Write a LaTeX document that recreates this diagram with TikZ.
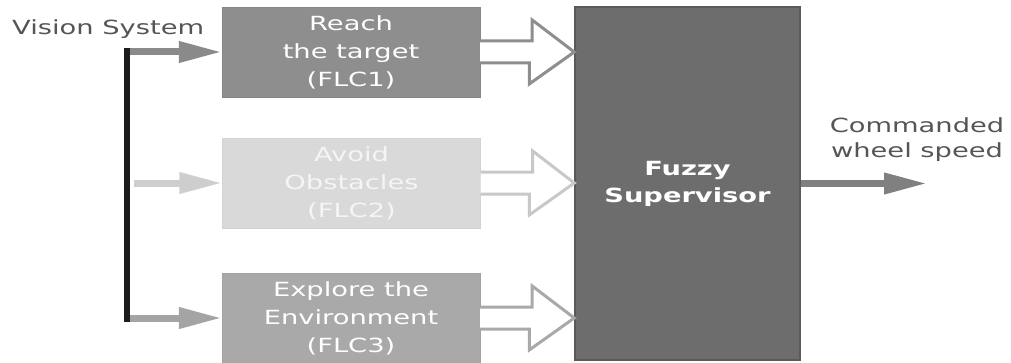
\documentclass[tikz,border=0pt]{standalone}
\usepackage{fontspec}
\newfontfamily\lab[FakeStretch=1.4]{DejaVu Sans}
\usetikzlibrary{arrows.meta}
\definecolor{boxA}{HTML}{8E8E8E}
\definecolor{boxB}{HTML}{D9D9D9}
\definecolor{boxC}{HTML}{A9A9A9}
\definecolor{supfill}{HTML}{6D6D6D}
\definecolor{supedge}{HTML}{5A5A5A}
\definecolor{labgray}{HTML}{555555}
\definecolor{busblack}{HTML}{1C1C1C}
\begin{document}
\begin{tikzpicture}[x=1pt,y=1pt,
  fcbox/.style={minimum width=258pt, minimum height=90pt, inner sep=0pt, align=center,
    font=\lab\fontsize{19.5}{28}\selectfont},
  solidarrow/.style={line width=7pt, -{Triangle[length=43pt,width=20pt]}},
  hollow/.style={line width=3pt, fill=white, line join=miter},
  labtext/.style={inner sep=0pt, align=center, text=labgray, font=\lab\fontsize{19.5}{25}\selectfont}
]
\useasboundingbox (0,0) rectangle (1011,362);
% boxes
\node[fcbox, fill=boxA, draw=boxA!95!black, text=white] (b1) at (351,310) {Reach\\the target\\(FLC1)};
\node[fcbox, fill=boxB, draw=boxB!97!black, text=white!96!black] (b2) at (351.5,179) {Avoid\\Obstacles\\(FLC2)};
\node[fcbox, fill=boxC, draw=boxC!95!black, text=white] (b3) at (351,44) {Explore the\\Environment\\(FLC3)};
\node[minimum width=225pt, minimum height=353pt, inner sep=0pt, align=center, fill=supfill, draw=supedge, line width=1.5pt,
  text=white, font=\lab\bfseries\fontsize{19.5}{27}\selectfont] (sup) at (687.5,178.5) {Fuzzy\\Supervisor};
% labels
\node[labtext, anchor=base west] (vis) at (12,327) {Vision System};
\node[labtext] (cmd) at (917,222) {Commanded\\wheel speed};
% bus
\coordinate (busT) at (126.5,313.5);
\coordinate (busB) at (126.5,40.5);
\coordinate (out) at (927,178.5);
% input arrows
\draw[solidarrow, draw=boxA!97!black] ([xshift=3pt]busT |- b1.west) -- (b1.west);
\draw[solidarrow, draw=boxB!95!black] ([xshift=7.5pt]busT |- b2.west) -- (b2.west);
\draw[solidarrow, draw=boxC!97!black] ([xshift=3pt]busT |- b3.west) -- (b3.west);
\draw[line width=6pt, draw=busblack] (busT) -- (busB);
% hollow arrows
\draw[hollow, draw=boxA] ([yshift=11pt]b1.east) -- ++(52,0) -- ++(0,21) -- (sup.west |- b1.east) -- ++(-45,-32) -- ++(0,21) -- ([yshift=-11pt]b1.east);
\draw[hollow, draw=boxB!92!black] ([yshift=11pt]b2.east) -- ++(52,0) -- ++(0,21) -- (sup.west |- b2.east) -- ++(-45,-32) -- ++(0,21) -- ([yshift=-11pt]b2.east);
\draw[hollow, draw=boxC] ([yshift=11pt]b3.east) -- ++(52,0) -- ++(0,21) -- (sup.west |- b3.east) -- ++(-45,-32) -- ++(0,21) -- ([yshift=-11pt]b3.east);
% output arrow
\draw[solidarrow, draw=boxA!90!black] (sup.east) -- (out);
\end{tikzpicture}
\end{document}
